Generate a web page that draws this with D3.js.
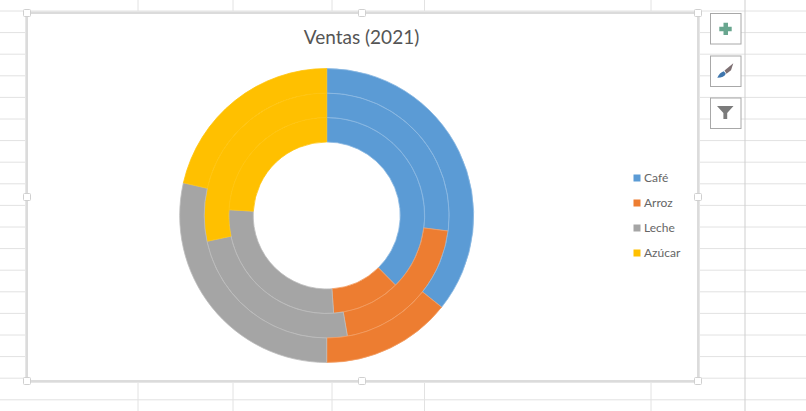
<!DOCTYPE html>
<html>
<head>
<meta charset="utf-8">
<script src="https://cdn.jsdelivr.net/npm/d3@7/dist/d3.min.js"></script>
<style>
  html, body { margin: 0; padding: 0; background: #fff; }
  svg { display: block; }
</style>
</head>
<body>
<svg id="chart" width="806" height="411"></svg>
<script>
// values
var categories = ["Café", "Arroz", "Leche", "Azúcar"];
var innerRing = [2500, 750, 1800, 1600];
var middleRing = [2000, 1500, 1800, 2100];
var outerRing = [2500, 1000, 2000, 1500];
var colors = ["#5b9bd5", "#ed7d31", "#a5a5a5", "#ffc000"];
var seamTint = [0.3, 0.25, 0.25, 0.06];
var title = "Ventas (2021)";

var svg = d3.select("#chart");
var gridColor = "#e2e2e2";

// spreadsheet grid behind the chart
var rowLines = d3.range(0, 19);
svg.selectAll("line.row").data(rowLines).enter().append("line")
  .attr("class", "row")
  .attr("x1", 0).attr("x2", 806)
  .attr("y1", d => 11 + d * 21.6).attr("y2", d => 11 + d * 21.6)
  .attr("stroke", gridColor).attr("stroke-width", 1);

var colLines = [138, 233, 332, 424.5, 651, 745];
svg.selectAll("line.col").data(colLines).enter().append("line")
  .attr("class", "col")
  .attr("x1", d => d).attr("x2", d => d)
  .attr("y1", 0).attr("y2", 411)
  .attr("stroke", d => d == 745 ? "#cfcfcf" : gridColor).attr("stroke-width", 1);

// chart area with its selection frame
svg.append("rect")
  .attr("x", 25.5).attr("y", 11.5).attr("width", 674).attr("height", 371)
  .attr("fill", "#fff").attr("stroke", "#e6e6e6").attr("stroke-width", 1);
svg.append("rect")
  .attr("x", 27).attr("y", 13).attr("width", 671).attr("height", 368)
  .attr("fill", "#fff").attr("stroke", "#d0d0d0").attr("stroke-width", 1.5);

var handles = [[27, 13], [362, 13], [698, 13], [27, 197], [698, 197], [27, 381], [362, 381], [698, 381]];
svg.selectAll("rect.handle").data(handles).enter().append("rect")
  .attr("class", "handle")
  .attr("x", d => d[0] - 3.5).attr("y", d => d[1] - 3.5)
  .attr("width", 7).attr("height", 7).attr("rx", 1)
  .attr("fill", "#fff").attr("stroke", "#d0d0d0");

svg.append("text")
  .attr("x", 361.5).attr("y", 44)
  .attr("text-anchor", "middle")
  .attr("font-family", "Lato, sans-serif")
  .attr("font-size", 19)
  .attr("fill", "#555")
  .text(title);

// doughnut rings
var cx = 326.7, cy = 215.5;
var radius = d3.scaleLinear().domain([0, 3]).range([73.5, 147]);
var pie = d3.pie().sort(null);
var rings = [innerRing, middleRing, outerRing];

var donut = svg.append("g").attr("transform", "translate(" + cx + "," + cy + ")");
rings.forEach(function(values, i) {
  var arc = d3.arc().innerRadius(radius(i)).outerRadius(radius(i + 1));
  donut.append("g").selectAll("path").data(pie(values)).enter().append("path")
    .attr("d", arc)
    .attr("fill", (d, j) => colors[j])
    // opaque stroke, a see-through one lets the white show at the seams
    .attr("stroke", (d, j) => d3.interpolateRgb(colors[j], "#fff")(seamTint[j]))
    .attr("stroke-width", 0.8);
});

// legend
var legendY = d3.scalePoint().domain(categories).range([178, 253]);
var legend = svg.append("g");
legend.selectAll("rect").data(categories).enter().append("rect")
  .attr("x", 633.5).attr("y", d => legendY(d) - 3.5)
  .attr("width", 7).attr("height", 7)
  .attr("fill", (d, i) => colors[i]);
legend.selectAll("text").data(categories).enter().append("text")
  .attr("x", 644).attr("y", d => legendY(d) + 4)
  .attr("font-family", "Lato, sans-serif")
  .attr("font-size", 12)
  .attr("fill", "#666")
  .text(d => d);

// chart buttons on the right
var buttons = [13.5, 56, 98];
svg.selectAll("rect.btn").data(buttons).enter().append("rect")
  .attr("class", "btn")
  .attr("x", 710.5).attr("y", d => d)
  .attr("width", 30.5).attr("height", 30.5)
  .attr("fill", "#fff").attr("stroke", "#a8a8a8");

svg.append("path")
  .attr("d", "M723.5 22.7h4.5v4h3.7v4.5h-3.7v3.8h-4.5v-3.8h-4.2v-4.5h4.2z")
  .attr("fill", "#69a68f");
svg.append("path")
  .attr("d", "M717.3 77.7c1.5-3.5 3.5-5.5 6.5-6.5l2 2.5c-1 2.5-4 4-8.5 4z")
  .attr("fill", "#3f76ad");
svg.append("path")
  .attr("d", "M724.5 70.5l8.8-7.2-2.3 7-4.5 3.5z")
  .attr("fill", "#7d6f72");
svg.append("path")
  .attr("d", "M717 106h16.5l-6.3 7v6h-3.8v-6z")
  .attr("fill", "#7b7b7b");
</script>
</body>
</html>
